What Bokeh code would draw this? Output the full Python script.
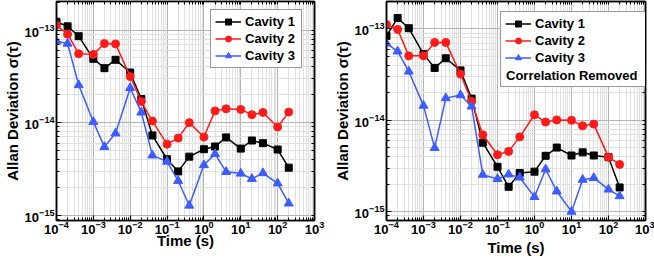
from bokeh.plotting import figure
from bokeh.layouts import row
from bokeh.models import LogAxis, LogTicker, FixedTicker, Legend, LegendItem, Range1d
from bokeh.embed import file_html
from bokeh.resources import INLINE

# ---- data -------------------------------------------------------------
tau = [1e-4, 2e-4, 4e-4, 1e-3, 2e-3, 4e-3, 1e-2, 2e-2, 4e-2, 1e-1,
       2e-1, 4e-1, 1, 2, 4, 10, 20, 40, 100, 200]

series_names = ["Cavity 1", "Cavity 2", "Cavity 3"]

left_cavity1 = [1.23e-13, 1.10e-13, 8.6e-14, 4.9e-14, 3.88e-14, 4.78e-14, 3.48e-14,
                1.80e-14, 7.27e-15, 4.02e-15, 2.97e-15, 4.29e-15, 5.16e-15, 5.52e-15,
                6.92e-15, 5.24e-15, 6.41e-15, 6.0e-15, 5.12e-15, 3.26e-15]
left_cavity2 = [1.13e-13, 9.04e-14, 5.56e-14, 5.47e-14, 7.16e-14, 7.10e-14, 3.15e-14,
                1.69e-14, 1.04e-14, 5.85e-15, 6.81e-15, 1.0e-14, 6.98e-15, 1.34e-14,
                1.41e-14, 1.39e-14, 1.22e-14, 1.29e-14, 8.97e-15, 1.30e-14]
left_cavity3 = [7.59e-14, 7.16e-14, 2.55e-14, 1.02e-14, 5.47e-15, 7.66e-15, 2.37e-14,
                1.29e-14, 4.43e-15, 3.79e-15, 2.35e-15, 1.27e-15, 3.48e-15, 4.59e-15,
                2.94e-15, 2.82e-15, 2.47e-15, 2.85e-15, 2.21e-15, 1.34e-15]

right_cavity1 = [8.4e-14, 1.32e-13, 1.02e-13, 5.31e-14, 3.75e-14, 4.78e-14, 3.52e-14,
                 1.73e-14, 5.69e-15, 3.10e-15, 1.87e-15, 2.65e-15, 2.74e-15, 4.09e-15,
                 5.03e-15, 4.12e-15, 4.46e-15, 4.12e-15, 3.95e-15, 1.84e-15]
right_cavity2 = [1.12e-13, 9.9e-14, 5.08e-14, 5.08e-14, 7.13e-14, 7.13e-14, 3.21e-14,
                 1.61e-14, 6.95e-15, 4.2e-15, 4.57e-15, 6.59e-15, 1.15e-14, 9.57e-15,
                 1.01e-14, 1.0e-14, 8.7e-15, 9.09e-15, 3.95e-15, 3.29e-15]
right_cavity3 = [6.95e-14, 5.69e-14, 3.43e-14, 1.45e-14, 4.99e-15, 1.75e-14, 1.89e-14,
                 1.42e-14, 2.54e-15, 2.28e-15, 2.56e-15, 2.37e-15, 1.45e-15, 2.91e-15,
                 1.67e-15, 1.0e-15, 2.24e-15, 2.34e-15, 1.75e-15, 1.48e-15]

x_label = "Time (s)"
y_label = "Allan Deviation σ(τ)"
extra_legend_text = "Correlation Removed"

# ---- styling ----------------------------------------------------------
colors = ["#000000", "#ff1a1a", "#3d5cff"]
markers = ["square", "circle", "triangle"]
marker_sizes = [7, 8, 9]
FONT = "Liberation Sans"


def log_minor_positions(lo_exp, hi_exp):
    return [m * 10.0 ** k for k in range(lo_exp, hi_exp) for m in range(1, 10)] + [10.0 ** hi_exp]


def make_panel(series, width, height, y_lo, y_hi, border_left, border_right,
               xlabel_standoff, legend_loc, legend_label_width, extra=None):
    p = figure(width=width, height=height, x_axis_type="log", y_axis_type="log",
               x_range=Range1d(1e-4, 1e3), y_range=Range1d(y_lo, y_hi),
               output_backend="svg", toolbar_location=None,
               min_border_left=border_left, min_border_right=border_right,
               min_border_top=1, min_border_bottom=0)
    p.background_fill_color = "white"
    p.outline_line_color = "black"
    p.outline_line_width = 1.5

    xt = LogTicker(mantissas=[1], num_minor_ticks=10)
    yt = LogTicker(mantissas=[1], num_minor_ticks=10)
    p.xaxis.ticker = xt
    p.yaxis.ticker = yt
    p.xgrid.ticker = xt
    p.ygrid.ticker = yt
    for g in (p.xgrid, p.ygrid):
        g.grid_line_color = "#b4b4b4"
        g.grid_line_width = 1
        g.minor_grid_line_color = "#e0e0e0"
        g.minor_grid_line_width = 1

    for ax in (p.xaxis, p.yaxis):
        ax.axis_line_width = 1.5
        ax.major_tick_in = 5
        ax.major_tick_out = 0
        ax.minor_tick_in = 3
        ax.minor_tick_out = 0
        ax.major_tick_line_width = 1.2
        ax.major_label_text_font = FONT
        ax.major_label_text_font_style = "bold"
        ax.major_label_text_font_size = "13px"
        ax.major_label_text_color = "black"
        ax.axis_label_text_font = FONT
        ax.axis_label_text_font_style = "bold"
        ax.axis_label_text_font_size = "15px"
        ax.axis_label_text_color = "black"
    p.xaxis.axis_label = x_label
    p.yaxis.axis_label = y_label
    p.xaxis.major_label_standoff = 0
    p.xaxis.axis_label_standoff = xlabel_standoff
    p.yaxis.major_label_standoff = 2
    p.yaxis.axis_label_standoff = 1

    # mirrored axes (tick marks only, no labels)
    top_ticks = FixedTicker(ticks=[], minor_ticks=log_minor_positions(-4, 3))
    right_ticks = FixedTicker(ticks=[], minor_ticks=log_minor_positions(-16, -12))
    for side, tk in (("above", top_ticks), ("right", right_ticks)):
        ax = LogAxis(ticker=tk, axis_line_width=1.5, major_tick_in=0, major_tick_out=0,
                     minor_tick_in=3, minor_tick_out=0, major_label_standoff=0)
        p.add_layout(ax, side)

    items = []
    for name, vals, c, m, s in zip(series_names, series, colors, markers, marker_sizes):
        ln = p.line(tau, vals, line_color=c, line_width=1.5)
        sc = p.scatter(tau, vals, marker=m, size=s, fill_color=c, line_color=c)
        items.append(LegendItem(label=name, renderers=[ln, sc]))
    dummy = None
    if extra is not None:
        dummy = p.scatter([1.0], [1e-14], size=1, fill_alpha=0, line_alpha=0)
        items.append(LegendItem(label=" ", renderers=[dummy]))

    common = dict(margin=0, spacing=2, glyph_height=15, label_height=15,
                  label_text_font=FONT, label_text_font_style="bold",
                  label_text_font_size="13px", label_text_color="black")
    leg = Legend(items=items, location=legend_loc, padding=4, glyph_width=26,
                 label_width=legend_label_width, label_standoff=4,
                 border_line_color="#333333", border_line_width=1.5,
                 background_fill_color="white", background_fill_alpha=1, **common)
    p.add_layout(leg, "center")

    if extra is not None:
        note = Legend(items=[LegendItem(label=extra, renderers=[dummy])],
                      location=(legend_loc[0] + 6, legend_loc[1] + 4), padding=0,
                      glyph_width=0, label_standoff=0, border_line_color=None,
                      background_fill_alpha=0, **common)
        p.add_layout(note, "center")
    return p


p1 = make_panel([left_cavity1, left_cavity2, left_cavity3], width=330, height=258,
                y_lo=8.75e-16, y_hi=2.04e-13, border_left=52, border_right=16,
                xlabel_standoff=-5, legend_loc=(154, 152), legend_label_width=52)
p2 = make_panel([right_cavity1, right_cavity2, right_cavity3], width=324, height=258,
                y_lo=8.0e-16, y_hi=2.0e-13, border_left=52, border_right=9,
                xlabel_standoff=2, legend_loc=(114, 133), legend_label_width=106,
                extra=extra_legend_text)

layout = row(p1, p2)
open("out.html", "w").write(file_html(layout, INLINE))
